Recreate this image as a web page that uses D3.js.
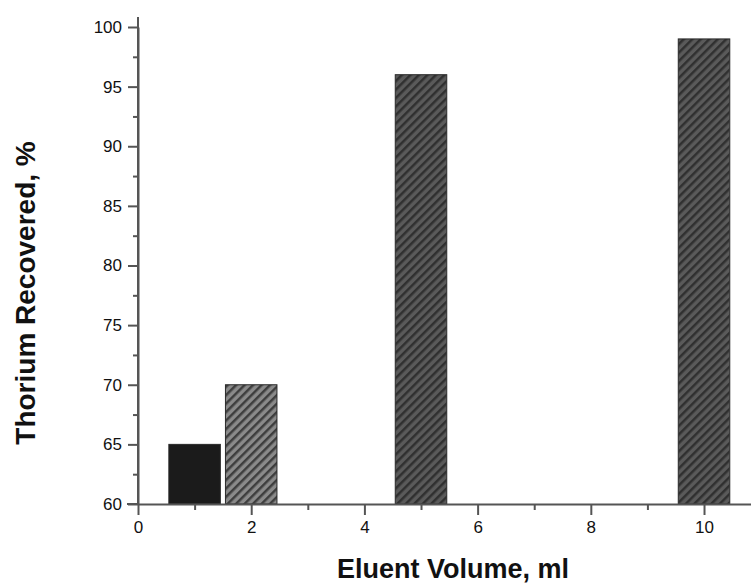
<!DOCTYPE html>
<html><head><meta charset="utf-8">
<script src="https://cdn.jsdelivr.net/npm/d3@7"></script>
<style>body{margin:0;background:#fff}svg{display:block}</style>
</head><body>
<script>
const volumes = [1, 2, 5, 10];
const recovery = [65, 70, 96, 99];
const barFills = ["solid", "light", "dark", "dark"];
const xTicks = [0, 2, 4, 6, 8, 10];
const yTicks = [60, 65, 70, 75, 80, 85, 90, 95, 100];

const W = 751, H = 585;
const svg = d3.select("body").append("svg").attr("width", W).attr("height", H);
const defs = svg.append("defs");
function hatch(id, bg, fg) {
  const p = defs.append("pattern").attr("id", id).attr("patternUnits", "userSpaceOnUse")
    .attr("width", 6).attr("height", 6).attr("patternTransform", "rotate(45)");
  p.append("rect").attr("width", 6).attr("height", 6).attr("fill", bg);
  p.append("rect").attr("width", 2.5).attr("height", 6).attr("fill", fg);
}
hatch("hLight", "#8a8a8a", "#3e3e3e");
hatch("hDark", "#5a5a5a", "#303030");
const fillOf = {solid: "#1b1b1b", light: "url(#hLight)", dark: "url(#hDark)"};

const x = d3.scaleLinear().domain([0, 10.83]).range([138, 751]);
const y = d3.scaleLinear().domain([60, 100]).range([504, 27]);
const bw = 0.91;

svg.append("g").selectAll("rect").data(volumes).join("rect")
  .attr("x", (d) => x(d - bw / 2))
  .attr("width", x(bw) - x(0))
  .attr("y", (d, i) => y(recovery[i]))
  .attr("height", (d, i) => y(60) - y(recovery[i]))
  .attr("fill", (d, i) => fillOf[barFills[i]])
  .attr("stroke", "#2a2a2a").attr("stroke-width", 1);

const axisColor = "#555";
svg.append("g").attr("transform", `translate(0,${y(60)})`)
  .call(d3.axisBottom(x).tickValues(xTicks).tickSize(11).tickSizeOuter(0).tickPadding(6));
svg.append("g").attr("transform", `translate(0,${y(60)})`)
  .call(d3.axisBottom(x).tickValues([1, 3, 5, 7, 9]).tickSize(6).tickSizeOuter(0).tickFormat(""))
  .select(".domain").remove();
svg.append("g").attr("transform", `translate(${x(0)},0)`)
  .call(d3.axisLeft(y).tickValues(yTicks).tickSize(10).tickSizeOuter(0).tickPadding(6));
svg.append("g").attr("transform", `translate(${x(0)},0)`)
  .call(d3.axisLeft(y).tickValues([62.5, 67.5, 72.5, 77.5, 82.5, 87.5, 92.5, 97.5]).tickSize(5).tickSizeOuter(0).tickFormat(""))
  .select(".domain").remove();
svg.append("line").attr("x1", x(0)).attr("x2", x(0)).attr("y1", 17).attr("y2", y(60))
  .attr("stroke", axisColor).attr("stroke-width", 2);
svg.append("line").attr("x1", 127).attr("x2", x(0)).attr("y1", y(60)).attr("y2", y(60))
  .attr("stroke", axisColor).attr("stroke-width", 2);

svg.selectAll(".domain").attr("stroke", axisColor).attr("stroke-width", 2);
svg.selectAll(".tick line").attr("stroke", axisColor).attr("stroke-width", 2);
svg.selectAll(".tick text").attr("fill", "#111").style("font-family", "Liberation Sans, Arial, sans-serif").style("font-size", "17px");

svg.append("text").attr("x", 453).attr("y", 578).attr("text-anchor", "middle")
  .style("font-family", "Liberation Sans, Arial, sans-serif").style("font-weight", "bold").style("font-size", "27px")
  .attr("fill", "#111").text("Eluent Volume, ml");
svg.append("text").attr("transform", "translate(35,293) rotate(-90)").attr("text-anchor", "middle")
  .style("font-family", "Liberation Sans, Arial, sans-serif").style("font-weight", "bold").style("font-size", "28px")
  .attr("fill", "#111").text("Thorium Recovered, %");
</script>
</body></html>
